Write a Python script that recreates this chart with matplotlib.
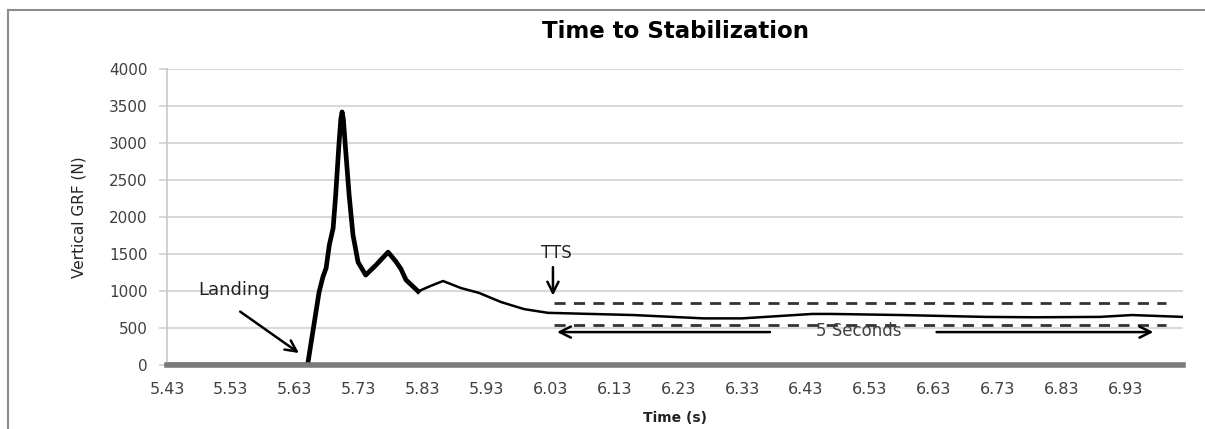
import numpy as np
import matplotlib.pyplot as plt
from matplotlib.lines import Line2D

# données
time_s = [5.43, 5.60, 5.650, 5.668, 5.674, 5.679, 5.684, 5.690, 5.694, 5.699,
          5.702, 5.704, 5.706, 5.709, 5.715, 5.721, 5.729, 5.741, 5.757, 5.776,
          5.788, 5.796, 5.804, 5.823, 5.843, 5.862, 5.890, 5.918, 5.953, 5.989,
          6.026, 6.16, 6.27, 6.33, 6.44, 6.47, 6.58, 6.71, 6.79, 6.89,
          6.94, 7.02]
grf_n = [0, 0, 0, 985, 1190, 1310, 1620, 1850, 2300, 2970,
         3320, 3420, 3320, 2970, 2300, 1760, 1390, 1215, 1350, 1525,
         1400, 1300, 1150, 995, 1070, 1135, 1040, 975, 850, 755,
         705, 675, 630, 630, 690, 690, 675, 650, 645, 650,
         675, 650]

yticks = [0, 500, 1000, 1500, 2000, 2500, 3000, 3500, 4000]
xtick_labels = ["5.43", "5.53", "5.63", "5.73", "5.83", "5.93", "6.03", "6.13",
                "6.23", "6.33", "6.43", "6.53", "6.63", "6.73", "6.83", "6.93"]

band_hi = 840
band_lo = 540
band_start = 6.036
band_end = 6.993

t = np.array(time_s)
f = np.array(grf_n)

fig = plt.figure(figsize=(12.05, 4.29), dpi=100)
ax = fig.add_axes([167/1205, 1 - 365/429, (1183 - 167)/1205, (365 - 69)/429])

# cadre extérieur (gauche + haut)
fig.add_artist(Line2D([8/1205, 8/1205], [0, 1 - 10/429], transform=fig.transFigure,
                      color="#8c8c8c", lw=1.5))
fig.add_artist(Line2D([8/1205, 1], [1 - 10/429, 1 - 10/429], transform=fig.transFigure,
                      color="#8c8c8c", lw=1.5))

ax.plot(t, f, color="black", lw=1.8, zorder=2, solid_joinstyle="round")
m = t <= 5.84
ax.plot(t[m], f[m], color="black", lw=3.4, zorder=2, solid_joinstyle="round")

ax.set_xlim(5.43, 7.02)
ax.set_ylim(0, 4000)
ax.set_yticks(yticks)
ax.set_xticks([float(s) for s in xtick_labels])
ax.set_xticklabels(xtick_labels)
ax.yaxis.grid(True, color="#d9d9d9", lw=1.5)
ax.set_axisbelow(True)

for s in ["top", "right"]:
    ax.spines[s].set_visible(False)
ax.spines["left"].set_color("#c8c8c8")
ax.spines["left"].set_linewidth(1.2)
ax.spines["bottom"].set_color("#7a7a7a")
ax.spines["bottom"].set_linewidth(4)
ax.spines["bottom"].set_zorder(3)

ax.tick_params(axis="y", length=6, color="#d0d0d0", width=1.2, labelsize=11,
               labelcolor="#404040", pad=8)
ax.tick_params(axis="x", length=0, labelsize=11.5, labelcolor="#404040", pad=12)

ax.set_title("Time to Stabilization", fontsize=16.5, fontweight="bold", pad=22)
ax.set_xlabel("Time (s)", fontsize=10, fontweight="bold", color="#222222", labelpad=10)
ax.set_ylabel("Vertical GRF (N)", fontsize=11, color="#222222", labelpad=16,
              family=["Liberation Sans Narrow", "DejaVu Sans"])

# bande de stabilisation
ax.plot([band_start, band_end], [band_hi, band_hi], color="#333333", lw=2, ls=(0, (4, 3)))
ax.plot([band_start, band_end], [band_lo, band_lo], color="#333333", lw=2, ls=(0, (4, 3)))

# TTS
ax.text(6.039, 1514, "TTS", ha="center", va="center", fontsize=12, color="#222222")
ax.annotate("", xy=(6.034, 900), xytext=(6.034, 1360),
            arrowprops=dict(arrowstyle="->", color="black", lw=1.8, mutation_scale=20))

# 5 secondes
ax.text(6.513, 465, "5 Seconds", ha="center", va="center", fontsize=12, color="#404040")
ax.annotate("", xy=(band_start, 445), xytext=(6.378, 445),
            arrowprops=dict(arrowstyle="->", color="black", lw=1.8, mutation_scale=20))
ax.annotate("", xy=(6.978, 445), xytext=(6.63, 445),
            arrowprops=dict(arrowstyle="->", color="black", lw=1.8, mutation_scale=20))

# Landing
ax.text(5.535, 1010, "Landing", ha="center", va="center", fontsize=13, color="#222222")
ax.annotate("", xy=(5.640, 140), xytext=(5.541, 743),
            arrowprops=dict(arrowstyle="->", color="black", lw=1.8, mutation_scale=20))

plt.savefig("out.png", dpi=100)
plt.close()
